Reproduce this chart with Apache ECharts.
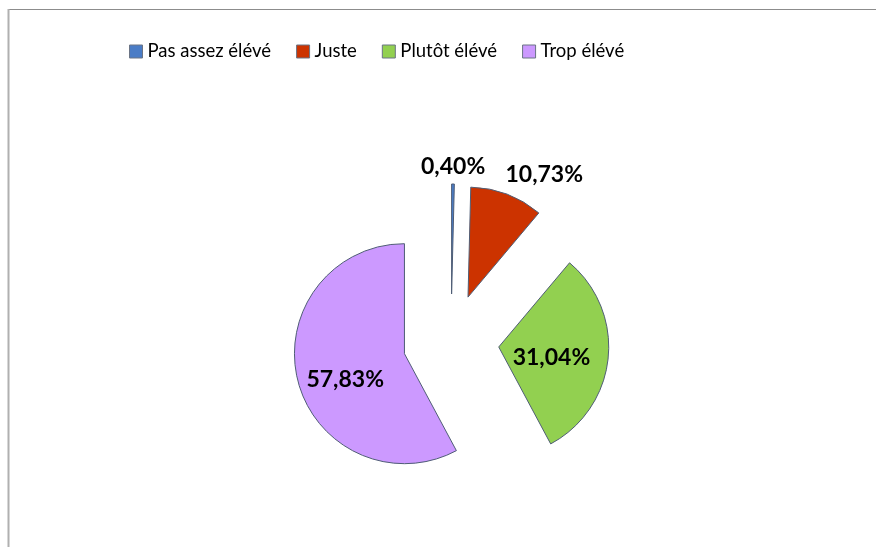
<!DOCTYPE html>
<html>
<head>
<meta charset="utf-8">
<script src="https://cdn.jsdelivr.net/npm/echarts@6/dist/echarts.min.js"></script>
<style>
html,body{margin:0;padding:0;background:#fff;}
#c{width:876px;height:547px;}
</style>
</head>
<body>
<div id="c"></div>
<script>
var categories = ['Pas assez élévé', 'Juste', 'Plutôt élévé', 'Trop élévé'];
var values = [0.40, 10.73, 31.04, 57.83];
var colors = ['#4a7cc6', '#cc3300', '#92d050', '#cc99ff'];
var labelPositions = ['outside', 'outside', 'inside', 'inside'];

var chart = echarts.init(document.getElementById('c'));
var data = categories.map(function (name, i) {
  return {
    name: name,
    value: values[i],
    selected: true,
    itemStyle: { color: colors[i] },
    label: { position: labelPositions[i] }
  };
});

// label nudges relative to the default placement (Excel-like placement)
var labelNudges = [[-5, -5], [28, -8], [-5, 5], [-3, 12]];
function placeLabel(p) {
  var n = labelNudges[p.dataIndex];
  var o = { dx: n[0], dy: n[1], hideOverlap: false };
  if (p.dataIndex < 2) { o.align = 'center'; o.verticalAlign = 'middle'; }
  return o;
}

chart.setOption({
  animation: false,
  graphic: [
    { type: 'line', shape: { x1: 8, y1: 9.5, x2: 876, y2: 9.5 }, style: { stroke: '#8c8c8c', lineWidth: 1 } },
    { type: 'line', shape: { x1: 8.5, y1: 9, x2: 8.5, y2: 547 }, style: { stroke: '#b0b0b0', lineWidth: 2 } }
  ],
  legend: {
    left: 124,
    top: 37,
    itemWidth: 13,
    itemHeight: 13,
    itemGap: 25,
    icon: 'rect',
    itemStyle: { borderColor: '#6b7485', borderWidth: 1 },
    textStyle: { fontFamily: 'Lato', fontSize: 18.5, color: '#000' },
    data: categories
  },
  series: [{
    type: 'pie',
    center: [451, 342],
    radius: 110,
    startAngle: 90,
    clockwise: true,
    selectedMode: 'multiple',
    selectedOffset: 48,
    avoidLabelOverlap: false,
    emphasis: { disabled: true },
    itemStyle: { borderColor: '#4f5d75', borderWidth: 1 },
    label: {
      show: true,
      fontFamily: 'Lato',
      fontWeight: 'bold',
      fontSize: 23,
      color: '#000',
      formatter: function (p) { return p.value.toFixed(2).replace('.', ',') + '%'; }
    },
    labelLine: { show: false, length: 12, length2: 0 },
    labelLayout: placeLabel,
    data: data
  }]
});
</script>
</body>
</html>
